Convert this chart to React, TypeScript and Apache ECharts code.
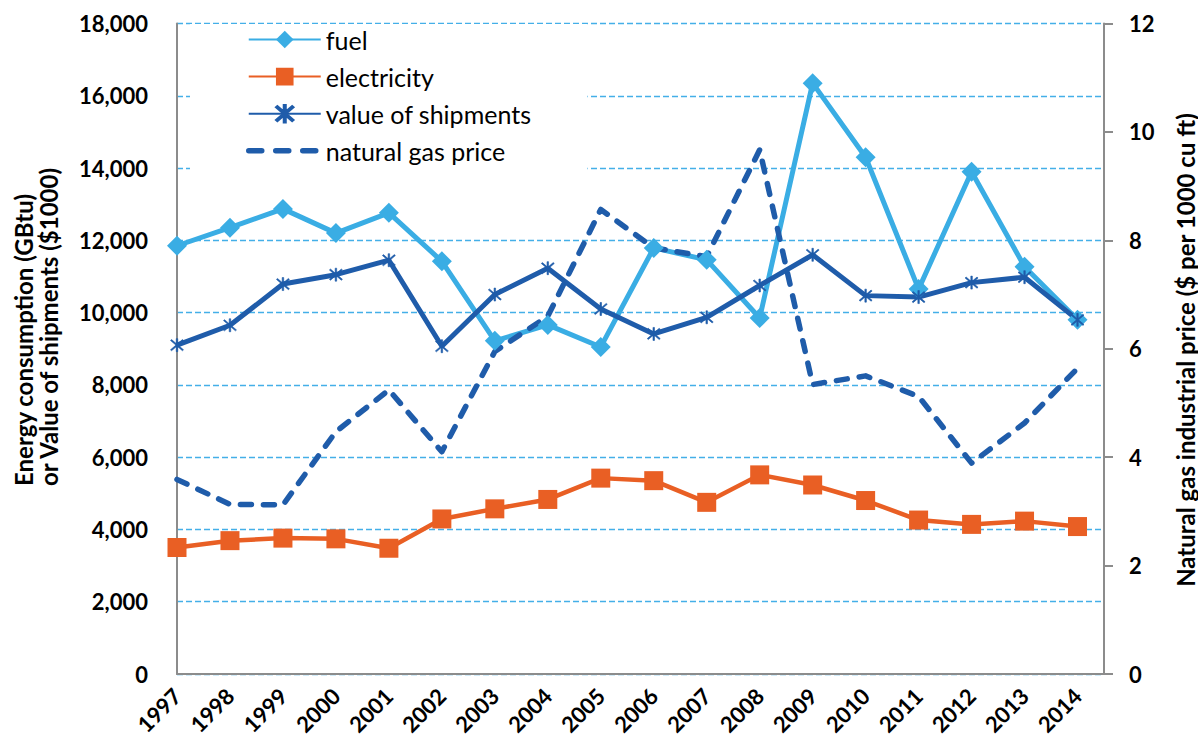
import React, { useEffect, useRef } from "react";
import * as echarts from "echarts";

const years = [1997, 1998, 1999, 2000, 2001, 2002, 2003, 2004, 2005, 2006, 2007, 2008, 2009, 2010, 2011, 2012, 2013, 2014];
const fuel = [11850, 12350, 12870, 12200, 12760, 11420, 9220, 9660, 9050, 11790, 11460, 9850, 16350, 14300, 10650, 13900, 11270, 9800];
const electricity = [3500, 3690, 3760, 3740, 3480, 4290, 4570, 4830, 5420, 5350, 4750, 5510, 5230, 4800, 4260, 4140, 4230, 4080];
const shipments = [9100, 9650, 10790, 11050, 11450, 9070, 10500, 11230, 10100, 9410, 9870, 10750, 11600, 10470, 10430, 10830, 10980, 9800];
const gasPrice = [3.59, 3.13, 3.12, 4.47, 5.24, 4.1, 5.95, 6.6, 8.57, 7.86, 7.7, 9.67, 5.34, 5.5, 5.12, 3.89, 4.63, 5.64];

const seriesNames = ["fuel", "electricity", "value of shipments", "natural gas price"];
const leftTitle = "Energy consumption (GBtu)\nor Value of shipments ($1000)";
const rightTitle = "Natural gas industrial price ($ per 1000 cu ft)";

const LIGHT = "#3AADE4";
const ORANGE = "#E95F24";
const DARK = "#1F5CAA";
const AXIS = "#8C8C8C";
const GRID = "#44AFE8";
const FONT = "Lato";

const asterisk =
  "path://M9 0H11V20H9Z M1.4 2.8L2.8 1.4L18.6 17.2L17.2 18.6Z M17.2 1.4L18.6 2.8L2.8 18.6L1.4 17.2Z";

const pairs = (vals: number[]) => years.map((y, i) => [y, vals[i]]);

export default function App() {
  const ref = useRef<HTMLDivElement>(null);
  useEffect(() => {
    if (!ref.current) return;
    const chart = echarts.init(ref.current, null, { renderer: "svg" });
    const labelStyle = { color: "#000", fontFamily: FONT, fontWeight: "bold" as const, fontSize: 22 };
    chart.setOption({
      animation: false,
      backgroundColor: "#fff",
      grid: { left: 177, right: 94, top: 23.5, bottom: 73, containLabel: false, outerBoundsMode: "none" },
      legend: {
        orient: "vertical",
        left: 190,
        top: 24,
        padding: [3, 56, 7, 56],
        itemWidth: 72,
        itemHeight: 22,
        itemGap: 12.1,
        backgroundColor: "#fff",
        selectedMode: false,
        textStyle: { fontFamily: FONT, fontSize: 25, lineHeight: 22, color: "#000" },
        data: [
          { name: seriesNames[0] },
          { name: seriesNames[1] },
          { name: seriesNames[2] },
          {
            name: seriesNames[3],
            itemStyle: { opacity: 0 },
            lineStyle: { width: 5.5, type: [13, 14], cap: "round" },
          },
        ],
      },
      xAxis: {
        type: "value",
        min: 1997,
        max: 2014.5,
        interval: 1,
        axisLine: { show: true, lineStyle: { color: AXIS, width: 2 } },
        axisTick: { show: false },
        splitLine: { show: false },
        axisLabel: {
          ...labelStyle,
          rotate: 45,
          margin: 18,
          padding: [16, 0, 0, 0],
          showMaxLabel: false,
          formatter: (v: number) => (Number.isInteger(v) ? String(v) : ""),
        },
      },
      yAxis: [
        {
          type: "value",
          min: 0,
          max: 18000,
          interval: 2000,
          position: "left",
          axisLine: { show: true, lineStyle: { color: AXIS, width: 2 } },
          axisTick: { show: false },
          splitLine: { show: true, lineStyle: { color: GRID, width: 1.3, type: [6, 3] } },
          axisLabel: {
            ...labelStyle,
            margin: 29,
            formatter: (v: number) => v.toLocaleString("en-US"),
          },
        },
        {
          type: "value",
          min: 0,
          max: 12,
          interval: 2,
          position: "right",
          axisLine: { show: true, lineStyle: { color: AXIS, width: 2 } },
          axisTick: { show: true, length: 9, inside: false, lineStyle: { color: AXIS, width: 2 } },
          splitLine: { show: false },
          axisLabel: { ...labelStyle, margin: 25 },
        },
      ],
      graphic: [
        {
          type: "text",
          x: 35.5,
          y: 486,
          rotation: Math.PI / 2,
          style: {
            text: leftTitle,
            fontFamily: FONT,
            fontWeight: "bold",
            fontSize: 24,
            lineHeight: 25,
            fill: "#000",
            align: "left",
            verticalAlign: "middle",
          },
        },
        {
          type: "text",
          x: 1185,
          y: 350,
          rotation: Math.PI / 2,
          style: {
            text: rightTitle,
            fontFamily: FONT,
            fontWeight: "bold",
            fontSize: 24,
            fill: "#000",
            align: "center",
            verticalAlign: "middle",
          },
        },
      ],
      series: [
        {
          name: seriesNames[0],
          type: "line",
          yAxisIndex: 0,
          data: pairs(fuel),
          symbol: "diamond",
          symbolSize: 20,
          lineStyle: { color: LIGHT, width: 5 },
          itemStyle: { color: LIGHT, borderWidth: 0 },
        },
        {
          name: seriesNames[1],
          type: "line",
          yAxisIndex: 0,
          data: pairs(electricity),
          symbol: "rect",
          symbolSize: 19,
          lineStyle: { color: ORANGE, width: 4.5 },
          itemStyle: { color: ORANGE, borderWidth: 0 },
        },
        {
          name: seriesNames[2],
          type: "line",
          yAxisIndex: 0,
          data: pairs(shipments),
          symbol: asterisk,
          symbolSize: 13,
          lineStyle: { color: DARK, width: 5 },
          itemStyle: { color: DARK, borderColor: DARK, borderWidth: 0.6 },
        },
        {
          name: seriesNames[3],
          type: "line",
          yAxisIndex: 1,
          data: pairs(gasPrice),
          symbol: "circle",
          showSymbol: false,
          lineStyle: { color: DARK, width: 5.5, type: [11, 12], cap: "round", join: "round" },
          itemStyle: { color: DARK },
        },
      ],
    });
    return () => chart.dispose();
  }, []);
  return <div ref={ref} style={{ position: "fixed", left: 0, top: 0, width: 1198, height: 747 }} />;
}
